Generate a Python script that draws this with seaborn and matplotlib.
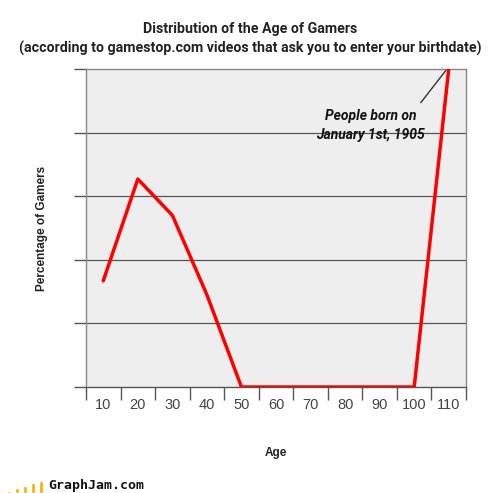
import numpy as np
import pandas as pd
import matplotlib
matplotlib.use("Agg")
import matplotlib.pyplot as plt
import seaborn as sns

# data
ages = [10, 20, 30, 40, 50, 60, 70, 80, 90, 100, 110]
pct = [1.67, 3.27, 2.70, 1.45, 0.0, 0.0, 0.0, 0.0, 0.0, 0.0, 5.0]
logo_bars = [1, 2, 3, 4, 5]

df = pd.DataFrame({'Age': ages, 'Percentage': pct})

sns.set_style('white')
plt.rcParams['font.family'] = ['Liberation Sans', 'DejaVu Sans']
narrow = ['Roboto', 'DejaVu Sans']

fig = plt.figure(figsize=(5, 4.93), dpi=100)
ax = fig.add_axes([0.172, 0.215, 0.76, 0.645])
ax.set_facecolor('#EEEEEE')

sns.lineplot(data=df, x='Age', y='Percentage', color='#FF0000', linewidth=2.5, ax=ax, zorder=3)

ax.set_xlim(5, 115)
ax.set_ylim(0, 5)
for yv in range(1, 5):
    ax.axhline(yv, color='#555555', linewidth=0.9, zorder=1)

# category boundary ticks, labels in between
ax.set_xticks(np.arange(5, 116, 10))
ax.set_xticklabels([])
ax.set_xticks(ages, minor=True)
ax.set_xticklabels([str(a) for a in ages], minor=True, fontsize=10.5, color='#444444')
ax.tick_params(axis='x', which='major', direction='out', length=9, width=1, color='#555555', bottom=True)
ax.tick_params(axis='x', which='minor', length=0, pad=8)
ax.set_yticks(range(0, 6))
ax.set_yticklabels([])
ax.tick_params(axis='y', direction='out', length=9, width=1, color='#555555', left=True)

for s in ax.spines.values():
    s.set_color('#888888')
    s.set_linewidth(1)
ax.spines['bottom'].set_color('#555555')

ax.set_xlabel('Age', fontsize=8.5, fontweight='bold', labelpad=25, color='#222222')
ax.set_ylabel('Percentage of Gamers', fontsize=8.5, fontweight='bold', labelpad=15, color='#222222')

fig.text(0.5, 0.941, 'Distribution of the Age of Gamers', ha='center', va='center',
         fontsize=10.2, fontweight='bold', family=narrow, color='#222222')
fig.text(0.5, 0.902, '(according to gamestop.com videos that ask you to enter your birthdate)',
         ha='center', va='center', fontsize=10.2, fontweight='bold', family=narrow,
         color='#222222')

ax.text(87.4, 4.11, 'People born on\nJanuary 1st, 1905', ha='center', va='center',
        fontsize=10, fontweight='bold', fontstyle='italic', family=narrow,
        linespacing=1.45, color='#111111')
ax.annotate('', xy=(109.2, 4.98), xytext=(101.9, 4.47),
            arrowprops=dict(arrowstyle='-', color='#333333', lw=1, shrinkA=0, shrinkB=0))

# GraphJam logo
lax = fig.add_axes([0.01, 0.0, 0.08, 0.025])
lax.bar(range(len(logo_bars)), logo_bars, width=0.45, color='#FFAA00')
lax.set_xlim(-0.5, len(logo_bars) - 0.5)
lax.set_ylim(0, 5)
lax.axis('off')
fig.text(0.097, 0.016, 'GraphJam.com', ha='left', va='center', fontsize=9.5,
         fontweight='bold', family='DejaVu Sans Mono', color='#111111')

fig.savefig('out.png', dpi=100)
